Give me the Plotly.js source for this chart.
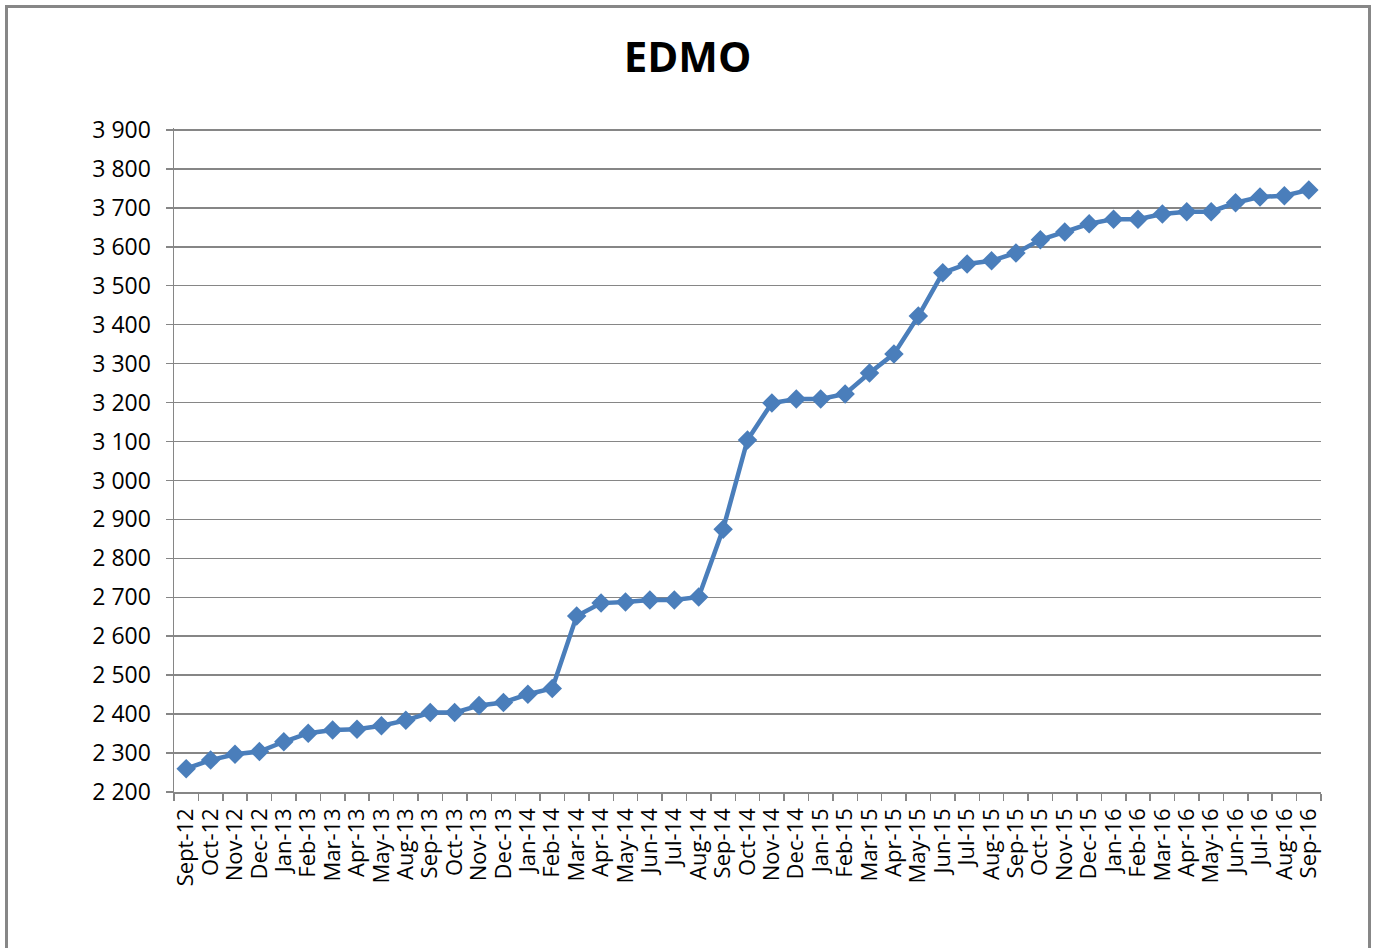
<!DOCTYPE html>
<html>
<head>
<meta charset="utf-8">
<script src="https://cdn.plot.ly/plotly-3.0.1.min.js"></script>
<style>
  html, body { margin: 0; padding: 0; background: #ffffff; overflow: hidden; }
  #chart { width: 1375px; height: 948px; }
  #frame { position: absolute; left: 5px; top: 5px; width: 1366px; height: 970px;
           border: 3px solid #878787; box-sizing: border-box; pointer-events: none; }
</style>
</head>
<body>
<div id="chart"></div>
<div id="frame"></div>
<script>
const categories = ["Sept-12","Oct-12","Nov-12","Dec-12","Jan-13","Feb-13","Mar-13","Apr-13","May-13","Aug-13","Sep-13","Oct-13","Nov-13","Dec-13","Jan-14","Feb-14","Mar-14","Apr-14","May-14","Jun-14","Jul-14","Aug-14","Sep-14","Oct-14","Nov-14","Dec-14","Jan-15","Feb-15","Mar-15","Apr-15","May-15","Jun-15","Jul-15","Aug-15","Sep-15","Oct-15","Nov-15","Dec-15","Jan-16","Feb-16","Mar-16","Apr-16","May-16","Jun-16","Jul-16","Aug-16","Sep-16"];
const edmo = [2260,2282,2297,2304,2329,2351,2359,2361,2370,2384,2404,2404,2422,2430,2451,2466,2652,2685,2688,2693,2693,2701,2875,3104,3199,3209,3209,3222,3276,3325,3422,3533,3556,3564,3584,3618,3638,3659,3671,3671,3684,3690,3690,3713,3728,3731,3746];
const chartTitle = "EDMO";

const trace = {
  x: categories,
  y: edmo,
  type: "scatter",
  mode: "lines+markers",
  line: { color: "#4a7ebb", width: 4.5 },
  marker: { symbol: "diamond", size: 15, color: "#4a7ebb" },
  showlegend: false,
  hoverinfo: "x+y"
};

const layout = {
  width: 1375, height: 948,
  paper_bgcolor: "#ffffff", plot_bgcolor: "#ffffff",
  separators: ", ",
  margin: { l: 174, r: 54, t: 128, b: 156, pad: 0 },
  title: {
    text: "<b>" + chartTitle + "</b>",
    font: { family: "Open Sans, Liberation Sans, sans-serif", size: 42, color: "#000000" },
    x: 0.5, xref: "container", xanchor: "center",
    y: 1 - 57/948, yref: "container", yanchor: "middle"
  },
  xaxis: {
    type: "category",
    range: [-0.5, categories.length - 0.5],
    tickmode: "linear", tick0: 0, dtick: 1,
    tickson: "boundaries",
    ticks: "outside", ticklen: 7, tickwidth: 1.5, tickcolor: "#868686",
    showline: true, linecolor: "#868686", linewidth: 1.5,
    showgrid: false, zeroline: false,
    tickangle: -90,
    ticklabelstandoff: 6,
    tickfont: { family: "Open Sans, sans-serif", size: 22, color: "#000000" },
    automargin: false
  },
  yaxis: {
    range: [2200, 3905],
    dtick: 100, tick0: 2200,
    tickformat: ",d",
    ticks: "outside", ticklen: 7, tickwidth: 1.5, tickcolor: "#868686",
    showline: true, linecolor: "#868686", linewidth: 1.5,
    showgrid: true, gridcolor: "#868686", gridwidth: 1.5,
    zeroline: false,
    ticklabelstandoff: 10,
    tickfont: { family: "Open Sans, sans-serif", size: 23, color: "#000000" },
    automargin: false
  }
};

Plotly.newPlot("chart", [trace], layout, { displayModeBar: false, staticPlot: true });
</script>
</body>
</html>
